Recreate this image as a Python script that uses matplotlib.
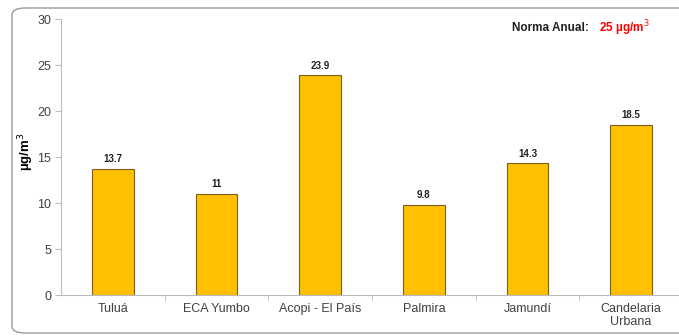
import matplotlib
matplotlib.use("Agg")
import matplotlib.pyplot as plt
from matplotlib.patches import FancyBboxPatch

# datos
estaciones = ["Tuluá", "ECA Yumbo", "Acopi - El País", "Palmira", "Jamundí", "Candelaria\nUrbana"]
valores = [13.7, 11, 23.9, 9.8, 14.3, 18.5]
etiquetas = ["13.7", "11", "23.9", "9.8", "14.3", "18.5"]
yticks = [0, 5, 10, 15, 20, 25, 30]

plt.rcParams['font.family'] = ['Liberation Sans', 'DejaVu Sans']

fig = plt.figure(figsize=(6.79, 3.36), dpi=100)

# marco redondeado (detrás de los ejes)
marco = FancyBboxPatch((12 / 679, 3 / 336), 700 / 679, 325 / 336,
                       boxstyle="round,pad=0,rounding_size=0.02",
                       transform=fig.transFigure, facecolor="white",
                       edgecolor="#9a9a9a", linewidth=1.0, zorder=-5)
fig.patches.append(marco)

ax = fig.add_axes([61 / 679, 41 / 336, 622 / 679, 276 / 336])
ax.set_facecolor("none")
ax.set_zorder(2)

x = range(len(estaciones))
ax.bar(x, valores, width=0.4, color="#FFC000", edgecolor="#7a6020", linewidth=0.8)

for xi, v, t in zip(x, valores, etiquetas):
    ax.text(xi, v + 0.5, t, ha="center", va="bottom", fontsize=7, fontweight="bold",
            color="#202020")

ax.set_xlim(-0.5, len(estaciones) - 0.5)
ax.set_ylim(0, 30)
ax.set_yticks(yticks)
ax.set_xticks(x)
ax.set_xticklabels(estaciones, fontsize=9, color="#404040", linespacing=1.1)
ax.set_xticks([i + 0.5 for i in range(len(estaciones))], minor=True)
ax.tick_params(axis="x", which="major", length=0, pad=6)
ax.tick_params(axis="x", which="minor", length=4, direction="out", color="#bbbbbb")
ax.tick_params(axis="y", labelsize=9, labelcolor="#404040", length=4, color="#bbbbbb", pad=3)

for s in ["top", "right"]:
    ax.spines[s].set_visible(False)
ax.spines["left"].set_color("#bbbbbb")
ax.spines["bottom"].set_color("#bbbbbb")

ax.set_ylabel("µg/m$^3$", fontsize=9.5, fontweight="bold")
ax.yaxis.set_label_coords(-0.040, 0.52)

fig.text(512 / 679, 1 - 28 / 336, "Norma Anual:", fontsize=8.5, fontweight="bold",
         color="#202020", ha="left", va="center", zorder=3)
fig.text(599 / 679, 1 - 28 / 336, "25 µg/m$^3$", fontsize=8.5, fontweight="bold",
         color="#ff0000", ha="left", va="center", zorder=3)

plt.savefig("out.png", dpi=100)
